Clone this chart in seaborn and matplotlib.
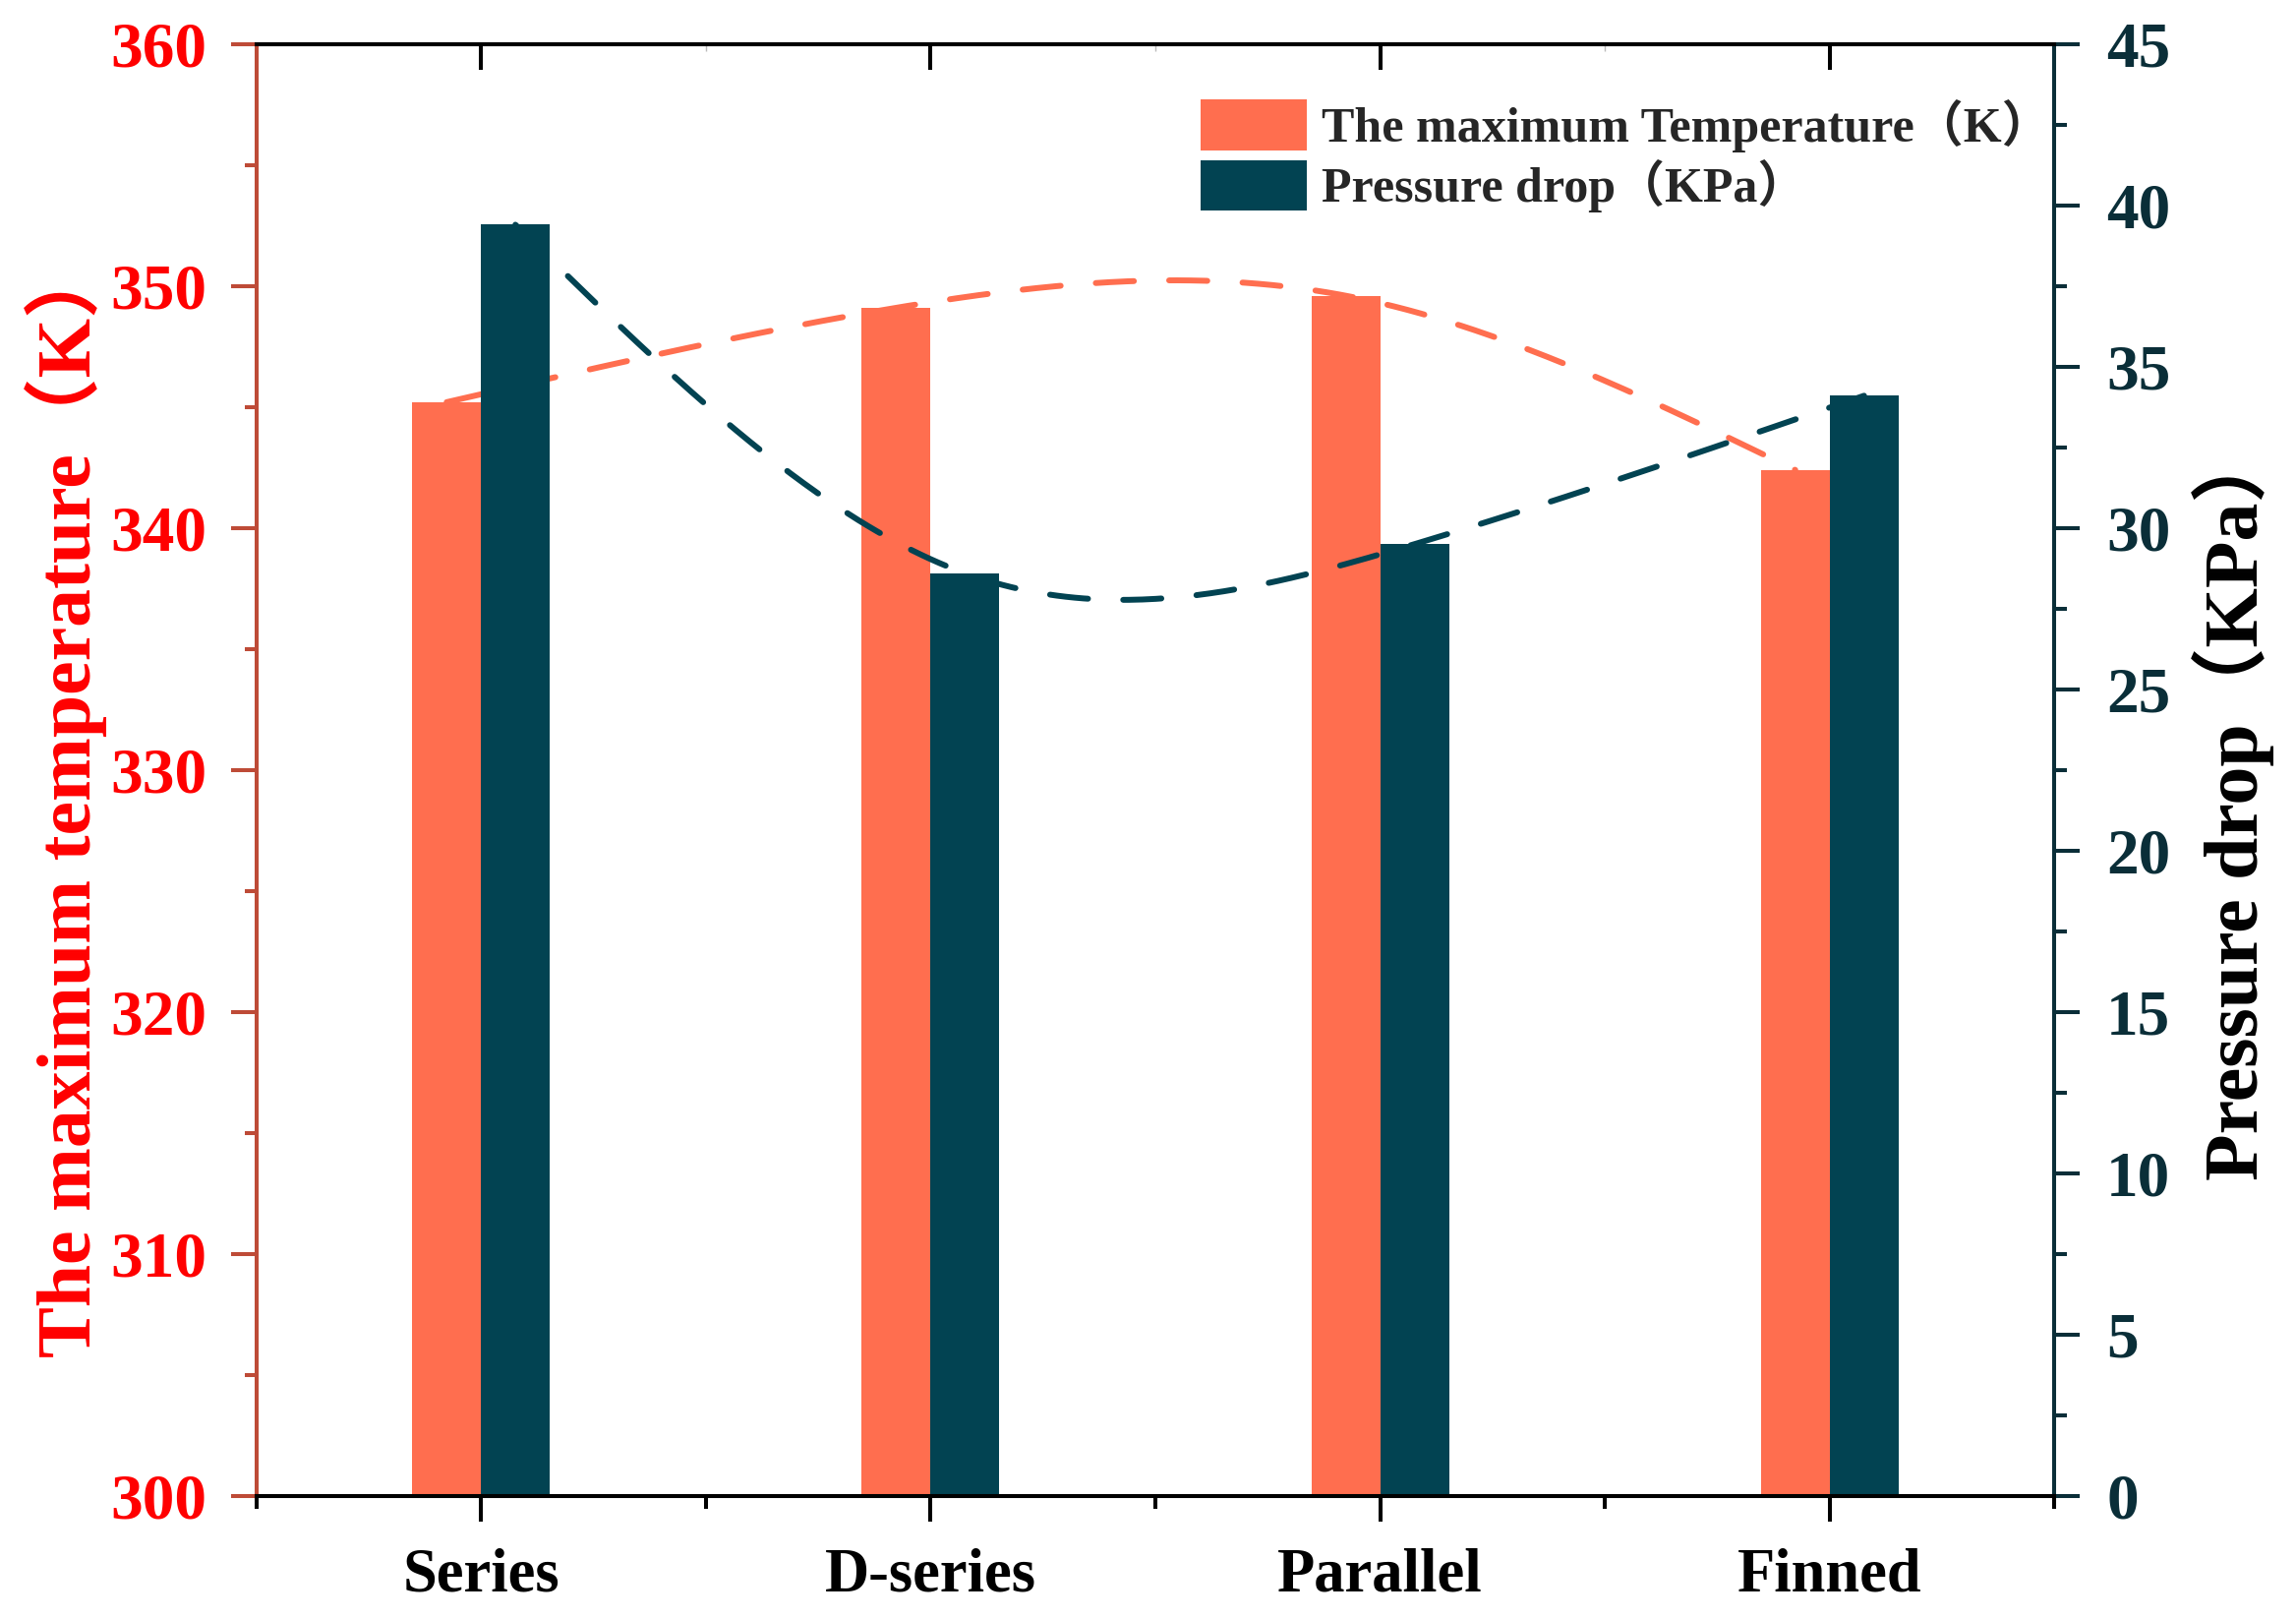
import numpy as np
import pandas as pd
import matplotlib
matplotlib.use("Agg")
import matplotlib.pyplot as plt
import seaborn as sns
from matplotlib.patches import Patch
from matplotlib.ticker import FixedLocator, MultipleLocator

# ---------------- data ----------------
categories = ["Series", "D-series", "Parallel", "Finned"]
max_temperature = [345.2, 349.1, 349.6, 342.4]      # K  (left axis)
pressure_drop = [39.4, 28.6, 29.5, 34.1]            # KPa (right axis)
series_names = ["The maximum Temperature（K）", "Pressure drop（KPa）"]
temp_ticks = [300, 310, 320, 330, 340, 350, 360]
pressure_ticks = [0, 5, 10, 15, 20, 25, 30, 35, 40, 45]

ORANGE = "#FF6E4F"
TEAL = "#024352"
LEFT_SPINE = "#BE4B37"
RIGHT_DARK = "#0A2E38"

sns.set_theme(style="white")
plt.rcParams["font.family"] = ["Liberation Serif", "Noto Sans CJK SC"]
plt.rcParams["font.weight"] = "bold"
plt.rcParams["axes.labelweight"] = "bold"

fig = plt.figure(figsize=(23.35, 16.46), dpi=100)
ax = fig.add_axes([0.1116, 0.076, 0.8948 - 0.1116, 0.9728 - 0.076])

df_t = pd.DataFrame({"Type": categories, "Value": max_temperature, "Series": series_names[0]})
df_p = pd.DataFrame({"Type": categories, "Value": pressure_drop, "Series": series_names[1]})

sns.barplot(data=df_t, x="Type", y="Value", hue="Series", hue_order=series_names,
            order=categories, palette=[ORANGE, TEAL], width=0.306, dodge=True,
            saturation=1, legend=False, linewidth=0, ax=ax, zorder=1)
ax2 = ax.twinx()
sns.barplot(data=df_p, x="Type", y="Value", hue="Series", hue_order=series_names,
            order=categories, palette=[ORANGE, TEAL], width=0.306, dodge=True,
            saturation=1, legend=False, linewidth=0, ax=ax2, zorder=1)

ax.set_xlim(-0.5, 3.5)
ax.set_ylim(300, 360)
ax2.set_ylim(0, 45)


def natural_cubic(x, y, n=300):
    x = np.asarray(x, float)
    y = np.asarray(y, float)
    k = len(x)
    h = np.diff(x)
    A = np.zeros((k, k))
    r = np.zeros(k)
    A[0, 0] = A[-1, -1] = 1
    for i in range(1, k - 1):
        A[i, i - 1] = h[i - 1]
        A[i, i] = 2 * (h[i - 1] + h[i])
        A[i, i + 1] = h[i]
        r[i] = 6 * ((y[i + 1] - y[i]) / h[i] - (y[i] - y[i - 1]) / h[i - 1])
    M = np.linalg.solve(A, r)
    xs = np.linspace(x[0], x[-1], n)
    idx = np.clip(np.searchsorted(x, xs) - 1, 0, k - 2)
    x0, x1 = x[idx], x[idx + 1]
    hh = x1 - x0
    t0, t1 = x1 - xs, xs - x0
    ys = (M[idx] * t0 ** 3 / (6 * hh) + M[idx + 1] * t1 ** 3 / (6 * hh)
          + (y[idx] / hh - M[idx] * hh / 6) * t0 + (y[idx + 1] / hh - M[idx + 1] * hh / 6) * t1)
    return xs, ys


def bar_tops(a):
    ps = sorted([p for p in a.patches if p.get_height() > 0], key=lambda p: p.get_x())
    return [p.get_x() + p.get_width() / 2 for p in ps], [p.get_height() for p in ps]


LW = 4.3
DASH = (0, (6.5, 6))
tx, ty = bar_tops(ax)
px, py = bar_tops(ax2)
sx, sy = natural_cubic(tx, ty)
ax.plot(sx, sy, color=ORANGE, lw=LW, linestyle=DASH, dash_capstyle="round", zorder=3)
sx, sy = natural_cubic(px, py)
ax2.plot(sx, sy, color=TEAL, lw=LW, linestyle=DASH, dash_capstyle="round", zorder=3)

# ---------------- spines ----------------
SW = 2.9
for s in ["top", "bottom"]:
    ax.spines[s].set_color("black")
    ax.spines[s].set_linewidth(SW)
    ax2.spines[s].set_color("black")
    ax2.spines[s].set_linewidth(SW)
ax.spines["left"].set_color(LEFT_SPINE)
ax.spines["left"].set_linewidth(SW)
ax.spines["right"].set_visible(False)
ax2.spines["left"].set_visible(False)
ax2.spines["right"].set_color(RIGHT_DARK)
ax2.spines["right"].set_linewidth(SW)

# ---------------- ticks ----------------
TS = 47
ax.yaxis.set_major_locator(FixedLocator(temp_ticks))
ax.yaxis.set_minor_locator(MultipleLocator(5))
ax.tick_params(axis="y", which="major", left=True, direction="out", length=19, width=SW,
               color=LEFT_SPINE, labelcolor="#FF0000", labelsize=TS, pad=17)
ax.tick_params(axis="y", which="minor", left=True, direction="out", length=9, width=SW,
               color=LEFT_SPINE)

ax.set_xticks(range(len(categories)))
ax.set_xticklabels(categories)
ax.xaxis.set_minor_locator(FixedLocator([-0.5, 0.5, 1.5, 2.5, 3.5]))
ax.tick_params(axis="x", which="major", bottom=True, top=False, direction="out", length=19,
               width=SW, color="black", labelcolor="black", labelsize=45, pad=19)
ax.tick_params(axis="x", which="minor", bottom=True, top=False, direction="out", length=9,
               width=SW, color="black")

sec = ax.secondary_xaxis("top")
sec.set_xticks(range(len(categories)))
sec.set_xticklabels([])
sec.xaxis.set_minor_locator(FixedLocator([0.5, 1.5, 2.5]))
sec.tick_params(axis="x", which="major", direction="in", length=19, width=SW, color="black")
sec.tick_params(axis="x", which="minor", direction="in", length=5, width=1.0, color="#BBBBBB")
sec.spines["top"].set_linewidth(SW)

ax2.yaxis.set_major_locator(FixedLocator(pressure_ticks))
ax2.yaxis.set_minor_locator(MultipleLocator(2.5))
ax2.tick_params(axis="y", which="major", right=True, direction="out", length=19, width=SW,
                color=RIGHT_DARK, labelcolor=RIGHT_DARK, labelsize=TS, pad=19)
ax2.tick_params(axis="y", which="minor", right=True, direction="out", length=9, width=SW,
                color=RIGHT_DARK)

for lab in ax.get_yticklabels() + ax2.get_yticklabels() + ax.get_xticklabels():
    lab.set_fontweight("bold")

ax.set_xlabel("")
ax.set_ylabel("")
ax2.set_ylabel("")

fig.text(0.0287, 0.506, "The maximum temperature（K）", rotation=90, ha="center", va="center",
         color="#FF0000", fontsize=56, fontweight="bold")
fig.text(0.9726, 0.504, "Pressure drop（KPa）", rotation=90, ha="center", va="center",
         color="black", fontsize=56, fontweight="bold")

handles = [Patch(facecolor=ORANGE, edgecolor="none"), Patch(facecolor=TEAL, edgecolor="none")]
leg = ax2.legend(handles, series_names, loc="upper left", bbox_to_anchor=(0.5253, 0.962),
                 frameon=False, fontsize=36, handlelength=2.15, handleheight=1.2,
                 labelspacing=0.15, handletextpad=0.3, borderpad=0, borderaxespad=0)
for t in leg.get_texts():
    t.set_fontweight("bold")

fig.savefig("out.png", dpi=100, facecolor="white")
